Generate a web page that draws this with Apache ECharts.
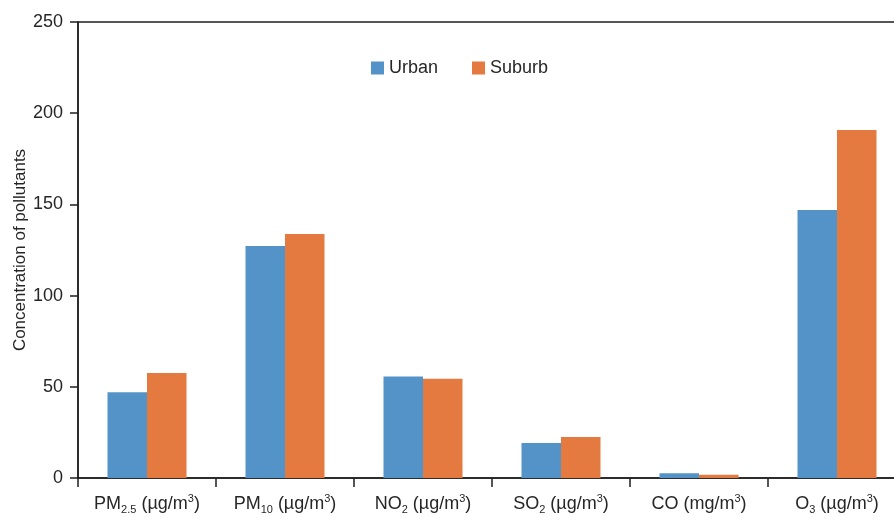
<!DOCTYPE html>
<html>
<head>
<meta charset="utf-8">
<script src="https://cdn.jsdelivr.net/npm/echarts@6/dist/echarts.min.js"></script>
<style>
html,body{margin:0;padding:0;background:#fff;}
#chart{width:894px;height:517px;}
</style>
</head>
<body>
<div id="chart"></div>
<script>
// Data
var categories = ['PM2.5', 'PM10', 'NO2', 'SO2', 'CO', 'O3'];
var categoryLabels = [
  '{n|PM}{sub|2.5}{n| (µg/m}{sup|3}{n|)}',
  '{n|PM}{sub|10}{n| (µg/m}{sup|3}{n|)}',
  '{n|NO}{sub|2}{n| (µg/m}{sup|3}{n|)}',
  '{n|SO}{sub|2}{n| (µg/m}{sup|3}{n|)}',
  '{n|CO (mg/m}{sup|3}{n|)}',
  '{n|O}{sub|3}{n| (µg/m}{sup|3}{n|)}'
];
var urban = [47.0, 127.2, 55.7, 19.2, 2.6, 146.9];
var suburb = [57.5, 133.8, 54.4, 22.5, 1.8, 190.8];
var seriesNames = ['Urban', 'Suburb'];
var yTicks = [0, 50, 100, 150, 200, 250];

var FONT = '"Liberation Sans", Arial, Helvetica, sans-serif';
var TXT = '#262626';
var AX = '#1f1f1f';

var chart = echarts.init(document.getElementById('chart'), null, {renderer: 'canvas'});
chart.setOption({
  animation: false,
  backgroundColor: '#fff',
  textStyle: {fontFamily: FONT},
  legend: {
    data: seriesNames,
    left: 371,
    top: 59,
    padding: 0,
    itemWidth: 13,
    itemHeight: 13,
    itemGap: 34,
    icon: 'rect',
    textStyle: {fontSize: 18, color: TXT, fontFamily: FONT}
  },
  grid: {
    left: 78,
    top: 22,
    width: 828,
    bottom: 39,
    show: true,
    borderColor: AX,
    borderWidth: 1.5,
    containLabel: false,
    outerBoundsMode: 'none'
  },
  xAxis: {
    type: 'category',
    data: categories,
    boundaryGap: true,
    axisLine: {show: true, lineStyle: {color: AX, width: 1.5}},
    axisTick: {show: true, length: 9, alignWithLabel: false, lineStyle: {color: AX, width: 1.5}},
    axisLabel: {
      margin: 15,
      interval: 0,
      color: TXT,
      formatter: function (v, i) { return categoryLabels[i]; },
      rich: {
        n: {fontSize: 18, color: TXT, fontFamily: FONT, lineHeight: 22},
        sub: {fontSize: 11, color: TXT, fontFamily: FONT, lineHeight: 8, verticalAlign: 'bottom'},
        sup: {fontSize: 11, color: TXT, fontFamily: FONT, lineHeight: 11, verticalAlign: 'top'}
      }
    },
    splitLine: {show: false}
  },
  yAxis: {
    type: 'value',
    min: yTicks[0],
    max: yTicks[yTicks.length - 1],
    interval: 50,
    name: 'Concentration of pollutants',
    nameLocation: 'middle',
    nameGap: 49,
    nameMoveOverlap: false,
    nameTextStyle: {fontSize: 17, color: TXT, fontFamily: FONT},
    axisLine: {show: true, lineStyle: {color: AX, width: 1.5}},
    axisTick: {show: true, length: 8, lineStyle: {color: AX, width: 1.5}},
    axisLabel: {margin: 15, fontSize: 18, color: TXT, fontFamily: FONT},
    splitLine: {show: false}
  },
  series: [
    {
      name: seriesNames[0],
      type: 'bar',
      data: urban,
      barWidth: 39.5,
      barGap: '0%',
      itemStyle: {color: '#5393c7'}
    },
    {
      name: seriesNames[1],
      type: 'bar',
      data: suburb,
      barWidth: 39.5,
      barGap: '0%',
      itemStyle: {color: '#e57a41'}
    }
  ]
});
</script>
</body>
</html>
